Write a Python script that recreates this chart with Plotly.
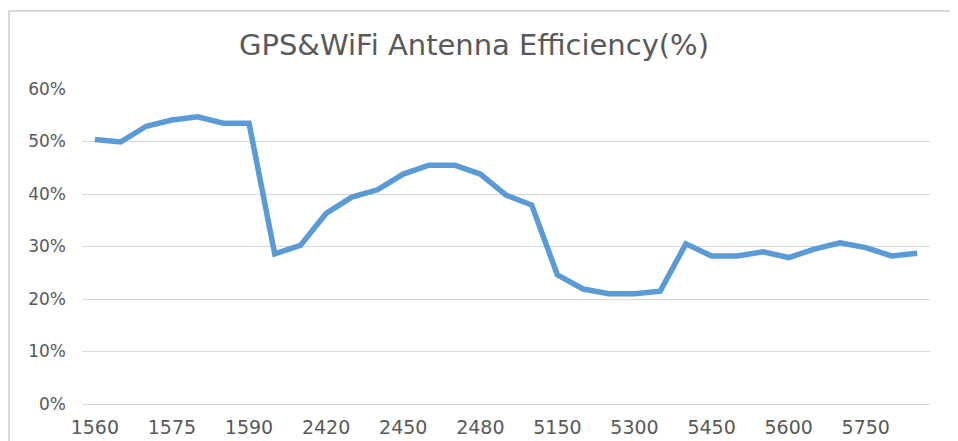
import plotly.graph_objects as go

categories = ["1560", "1565", "1570", "1575", "1580", "1585", "1590",
              "2400", "2410", "2420", "2430", "2440", "2450", "2460", "2470", "2480", "2490", "2500",
              "5150", "5200", "5250", "5300", "5350", "5400", "5450", "5500", "5550", "5600",
              "5650", "5700", "5750", "5800", "5850"]
efficiency = [50.4, 49.9, 52.9, 54.1, 54.7, 53.5, 53.5,
              28.6, 30.2, 36.3, 39.4, 40.8, 43.8, 45.5, 45.5, 43.8, 39.8, 37.9,
              24.6, 21.9, 21.0, 21.0, 21.5, 30.5, 28.2, 28.2, 29.0, 27.9,
              29.5, 30.7, 29.8, 28.2, 28.7]
x_tick_labels = categories[::3]
y_ticks = [0, 10, 20, 30, 40, 50, 60]
y_tick_labels = ["0%", "10%", "20%", "30%", "40%", "50%", "60%"]

# page offset of the plot div inside the browser window (default body margin)
OX, OY = 8, 8
W, H = 958 - OX, 441 - OY
L, R, T, B = 82 - OX, 930 - OX, 89 - OY, 404 - OY

def px_x(p):
    return (p - L) / (R - L)

def px_y(p):
    return (B - p) / (B - T)

fig = go.Figure()
fig.add_trace(go.Scatter(
    x=categories, y=efficiency, mode="lines",
    line=dict(color="#5B9BD5", width=5.5, shape="linear"),
    hoverinfo="skip", showlegend=False,
))

fig.update_layout(
    width=W, height=H,
    margin=dict(l=L, r=W - R, t=T, b=H - B, pad=0, autoexpand=False),
    paper_bgcolor="white", plot_bgcolor="white",
    font=dict(family="DejaVu Sans", color="#595959"),
    title=dict(text="GPS&WiFi Antenna Efficiency(%)", x=(474 - OX) / W, xanchor="center",
               y=1 - (45 - OY) / H, yanchor="middle", yref="container",
               font=dict(size=29, color="#595959", family="DejaVu Sans")),
    xaxis=dict(type="category", range=[-0.5, len(categories) - 0.5],
               tickmode="array", tickvals=x_tick_labels, ticktext=x_tick_labels,
               showgrid=False, showline=True, linecolor="#d9d9d9", linewidth=1,
               ticks="", tickfont=dict(size=19, color="#595959"),
               ticklabelstandoff=6, zeroline=False, fixedrange=True),
    yaxis=dict(range=[0, 60], tickmode="array", tickvals=y_ticks, ticktext=y_tick_labels,
               showgrid=True, gridcolor="#d9d9d9", gridwidth=1,
               zeroline=False, showline=False, ticks="",
               tickfont=dict(size=17, color="#595959"),
               ticklabelstandoff=15, fixedrange=True),
    shapes=[
        dict(type="line", xref="paper", yref="paper",
             x0=px_x(9 - OX), x1=px_x(W + 5), y0=px_y(11 - OY), y1=px_y(11 - OY),
             line=dict(color="#d9d9d9", width=2)),
        dict(type="line", xref="paper", yref="paper",
             x0=px_x(9 - OX), x1=px_x(9 - OX), y0=px_y(11 - OY), y1=px_y(H + 5),
             line=dict(color="#d9d9d9", width=2)),
    ],
)

fig.write_html("out.html")
